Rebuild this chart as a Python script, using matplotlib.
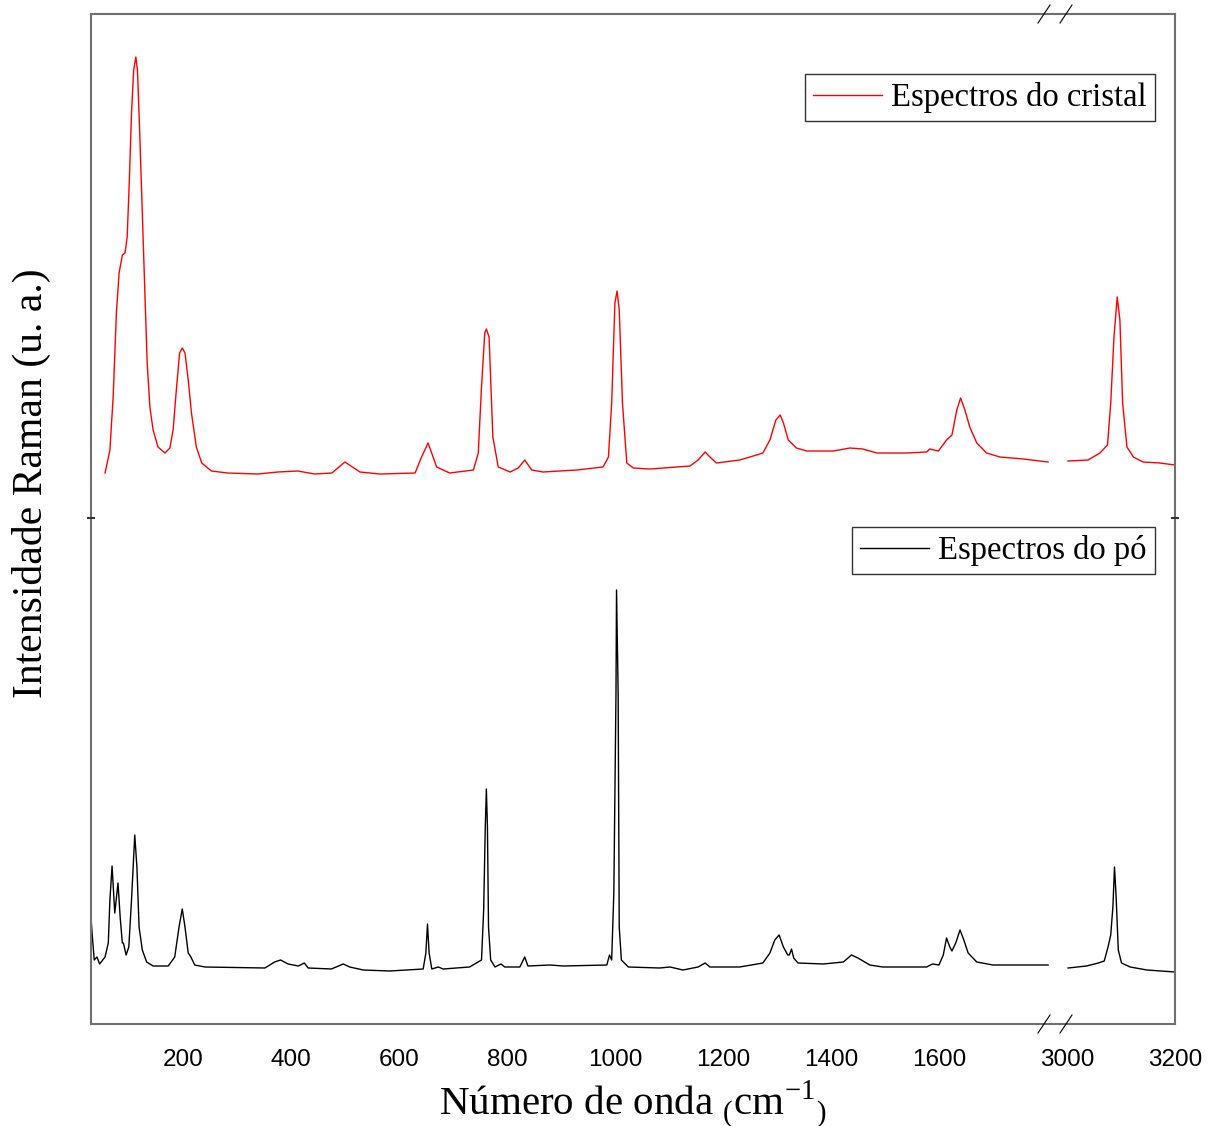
import numpy as np
import matplotlib
matplotlib.use('Agg')
import matplotlib.pyplot as plt
from matplotlib.lines import Line2D

plt.rcParams['font.family'] = 'Liberation Serif'
plt.rcParams['mathtext.fontset'] = 'custom'
plt.rcParams['mathtext.rm'] = 'Liberation Serif'

# Raman spectrum of the crystal (red), arbitrary units
cristal_x = [56, 65, 71, 77, 82, 88, 93, 97, 101, 105, 109, 113, 116, 120, 125, 130, 134, 139, 145,
             154, 167, 176, 182, 188, 194, 199, 204, 210, 216, 225, 235, 253, 283, 339, 376, 413, 444,
             476, 500, 528, 565, 630, 642, 654, 670, 694, 738, 747, 753, 759, 762, 767, 774, 784, 806,
             821, 833, 846, 867, 929, 978, 988, 994, 1000, 1004, 1008, 1014, 1022, 1034, 1065, 1139,
             1154, 1167, 1176, 1188, 1231, 1256, 1274, 1287, 1298, 1306, 1312, 1321, 1336, 1355, 1404,
             1435, 1459, 1485, 1540, 1577, 1583, 1599, 1614, 1624, 1633, 1640, 1648, 1657, 1670, 1688,
             1713, 1756, 1802]
cristal_y = [45, 68, 121, 205, 245, 263, 265, 281, 338, 405, 448, 461, 448, 388, 305, 221, 155, 111, 88,
             71, 65, 70, 88, 128, 165, 170, 165, 138, 105, 71, 55, 47, 45, 44, 46, 47, 44,
             45, 56, 46, 44, 45, 61, 75, 51, 45, 48, 65, 131, 185, 189, 181, 81, 51, 46,
             50, 58, 48, 46, 48, 51, 61, 115, 215, 227, 208, 115, 55, 50, 49, 52,
             58, 66, 61, 55, 58, 62, 65, 78, 98, 103, 95, 78, 70, 67, 67,
             70, 69, 65, 65, 66, 69, 67, 78, 83, 108, 120, 108, 91, 75, 65,
             61, 59, 56]
cristal_x2 = [3002, 3039, 3061, 3075, 3081, 3087, 3093, 3098, 3103, 3111, 3123, 3141, 3172, 3200]
cristal_y2 = [57, 58, 65, 73, 115, 181, 221, 198, 115, 71, 61, 56, 55, 53]

# Raman spectrum of the powder (black)
po_x = [30, 33, 36, 41, 46, 56, 62, 65, 69, 74, 80, 84, 88, 90, 95, 100, 105, 111, 115, 119, 125,
        133, 145, 173, 185, 193, 199, 204, 210, 215, 222, 241, 352, 370, 381, 395, 414, 425, 432,
        475, 497, 509, 534, 583, 645, 650, 653, 656, 661, 673, 682, 731, 753, 757, 760, 762, 764,
        766, 770, 778, 789, 796, 824, 833, 839, 880, 904, 985, 990, 994, 998, 1002, 1003, 1006,
        1008, 1012, 1025, 1083, 1102, 1126, 1154, 1167, 1176, 1231, 1274, 1287, 1296, 1304, 1312,
        1320, 1323, 1327, 1331, 1339, 1386, 1423, 1438, 1450, 1472, 1496, 1577, 1588, 1600, 1608,
        1614, 1620, 1624, 1631, 1639, 1646, 1654, 1670, 1700, 1802]
po_y = [106, 84, 64, 67, 60, 67, 81, 124, 158, 111, 141, 107, 81, 81, 69, 77, 124, 189, 157, 97, 74,
        62, 58, 58, 67, 97, 115, 97, 71, 67, 59, 57, 56, 62, 64, 60, 58, 61, 56,
        55, 60, 57, 54, 53, 55, 71, 100, 71, 55, 57, 55, 57, 64, 114, 197, 235, 197,
        97, 64, 57, 60, 57, 57, 67, 58, 59, 58, 59, 69, 64, 131, 331, 434, 331,
        97, 64, 57, 56, 57, 54, 57, 61, 57, 57, 61, 71, 84, 89, 77,
        69, 69, 75, 66, 61, 60, 62, 69, 66, 59, 57, 57, 60, 59, 69,
        86, 77, 73, 81, 94, 84, 71, 62, 59, 59]
po_x2 = [3002, 3036, 3058, 3069, 3076, 3081, 3085, 3088, 3091, 3095, 3101, 3117, 3148, 3200]
po_y2 = [56, 58, 61, 63, 77, 89, 117, 157, 127, 74, 61, 57, 54, 52]

xticks = [200, 400, 600, 800, 1000, 1200, 1400, 1600, 3000, 3200]


# broken axis: squeeze the empty 1802-3000 range into a narrow gap
def fwd(x):
    x = np.asarray(x, dtype=float)
    return np.where(x <= 1802, x, np.where(x < 3000, 1802 + (x - 1802) * 35 / 1198, x - 1163))


def inv(u):
    u = np.asarray(u, dtype=float)
    return np.where(u <= 1802, u, np.where(u < 1837, 1802 + (u - 1802) * 1198 / 35, u + 1163))


W, H = 1216, 1126
fig = plt.figure(figsize=(W / 100, H / 100), dpi=100)
ax_top = fig.add_axes([91 / W, 1 - 518 / H, 1084 / W, 504 / H])
ax_bot = fig.add_axes([91 / W, 1 - 1024 / H, 1084 / W, 506 / H])

spine_col = '#707070'
for ax in (ax_top, ax_bot):
    ax.set_xscale('function', functions=(fwd, inv))
    ax.set_xlim(30, 3200)
    ax.set_yticks([])
    for s in ax.spines.values():
        s.set_color(spine_col)
        s.set_linewidth(1.5)

ax_top.set_ylim(0, 504)
ax_bot.set_ylim(0, 506)
ax_top.spines['bottom'].set_visible(False)
ax_bot.spines['top'].set_visible(False)
ax_top.set_xticks([])

ax_top.plot(cristal_x, cristal_y, color='#ff0000', lw=1.0, label='Espectros do cristal')
ax_top.plot(cristal_x2, cristal_y2, color='#ff0000', lw=1.0)
ax_bot.plot(po_x, po_y, color='black', lw=1.0, label='Espectros do pó')
ax_bot.plot(po_x2, po_y2, color='black', lw=1.0)

ax_bot.set_xticks(xticks)
ax_bot.set_xticklabels([str(t) for t in xticks], fontsize=17.5, fontfamily='Liberation Sans')
ax_bot.tick_params(axis='x', length=0, pad=18)

leg_kw = dict(loc='upper right', fontsize=23.5, borderpad=0.25, handlelength=2.12,
              handletextpad=0.28, borderaxespad=0, fancybox=False, framealpha=1)
lg = ax_top.legend(bbox_to_anchor=(1064 / 1084, 1 - 60 / 504), **leg_kw)
lg.get_frame().set_edgecolor('#333333')
lg.get_frame().set_linewidth(1.0)
lg = ax_bot.legend(bbox_to_anchor=(1064 / 1084, 1 - 9 / 506), **leg_kw)
lg.get_frame().set_edgecolor('#333333')
lg.get_frame().set_linewidth(1.0)

# break marks on top and bottom spines
for yc in (14, 1024):
    for xc in (1044, 1066):
        fig.add_artist(Line2D([(xc - 6) / W, (xc + 6) / W], [1 - (yc + 9) / H, 1 - (yc - 9) / H],
                              color='black', lw=0.8))
# small marks where the two panels meet
for xc in (91, 1175):
    fig.add_artist(Line2D([(xc - 3) / W, (xc + 3) / W], [1 - 518 / H, 1 - 518 / H],
                          color='#333333', lw=1.5))

fig.text(31 / W, 1 - 483 / H, 'Intensidade Raman (u. a.)', rotation=90, fontsize=30,
         ha='center', va='center')
fig.text(633 / W, 1 - 1115 / H, r'Número de onda $_{(}$cm$^{-1}$$_{)}$', fontsize=29.5,
         ha='center', va='baseline')

fig.savefig('out.png', dpi=100)
